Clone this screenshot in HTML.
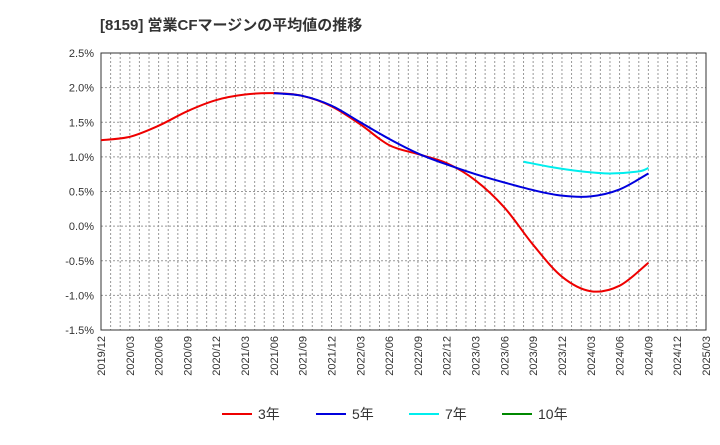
<!DOCTYPE html>
<html><head><meta charset="utf-8"><style>
body{margin:0;background:#fff;width:720px;height:440px;overflow:hidden}
text{font-family:"Liberation Sans","Noto Sans CJK JP",sans-serif}
</style></head><body>
<svg width="720" height="440">
<text x="100" y="30" font-size="15" font-weight="bold" fill="#333">[8159]  営業CFマージンの平均値の推移</text>
<g id="grid"></g><g id="axes"></g><g id="series"></g>
<g id="legend"></g>
</svg>
<script>
const yTicks=[2.5,2.0,1.5,1.0,0.5,0.0,-0.5,-1.0,-1.5];
const xLabels=["2019/12","2020/03","2020/06","2020/09","2020/12","2021/03","2021/06","2021/09","2021/12","2022/03","2022/06","2022/09","2022/12","2023/03","2023/06","2023/09","2023/12","2024/03","2024/06","2024/09","2024/12","2025/03"];
// month index from 2019/12
const s3m=[0,3,6,9,12,15,18,21,24,27,30,33,36,39,42,45,48,51,54,57];
const s3v=[1.24,1.29,1.45,1.66,1.82,1.90,1.92,1.88,1.73,1.47,1.17,1.04,0.91,0.66,0.27,-0.27,-0.73,-0.94,-0.86,-0.53];
const s5m=[18,21,24,27,30,33,36,39,42,45,48,51,54,57];
const s5v=[1.92,1.88,1.74,1.50,1.26,1.05,0.89,0.75,0.63,0.52,0.44,0.43,0.53,0.76];
const s7m=[44,47,50,53,56,57];
const s7v=[0.93,0.85,0.79,0.76,0.79,0.84];
const L=101,R=706,T=53,B=330,ymin=-1.5,ymax=2.5,mmax=63;
const X=m=>L+(R-L)*m/mmax, Y=v=>B-(B-T)*(v-ymin)/(ymax-ymin);
const NS="http://www.w3.org/2000/svg";
function mk(tag,attrs,parent){const e=document.createElementNS(NS,tag);for(const k in attrs)e.setAttribute(k,attrs[k]);document.getElementById(parent).appendChild(e);return e;}
for(let m=1;m<mmax;m++){const e=mk('line',{x1:X(m),x2:X(m),y1:T,y2:B,stroke:'#999','stroke-dasharray':'2,2','stroke-width':1},'grid');

}
yTicks.forEach(v=>{const e=mk('line',{x1:L,x2:R,y1:Y(v),y2:Y(v),stroke:'#999','stroke-dasharray':'2,2'},'grid');


const t=mk('text',{x:L-7,y:Y(v)+4,'font-size':11,'text-anchor':'end',fill:'#333'},'axes');t.textContent=v.toFixed(1)+'%';

});
const fr=mk('rect',{x:L,y:T,width:R-L,height:B-T,fill:'none',stroke:'#333'},'axes');


xLabels.forEach((s,i)=>{const x=X(i*3),y=B+6;const t=mk('text',{x:x+4,y:y,'font-size':11,'text-anchor':'end',fill:'#333',transform:`rotate(-90 ${x+4} ${y})`},'axes');t.textContent=s;

});
function line(ms,vs,c,name){
const P=ms.map((m,i)=>[X(m),Y(vs[i])]);
let d='M'+P[0][0]+','+P[0][1];
for(let i=0;i<P.length-1;i++){const p0=P[i-1]||P[i],p1=P[i],p2=P[i+1],p3=P[i+2]||P[i+1];
const c1=[p1[0]+(p2[0]-p0[0])/6,p1[1]+(p2[1]-p0[1])/6],c2=[p2[0]-(p3[0]-p1[0])/6,p2[1]-(p3[1]-p1[1])/6];
d+=` C${c1[0]},${c1[1]} ${c2[0]},${c2[1]} ${p2[0]},${p2[1]}`;}
const p=mk('path',{d:d,fill:'none',stroke:c,'stroke-width':2,'stroke-linejoin':'round'},'series');

}
line(s3m,s3v,'#e00','series-3yr');line(s7m,s7v,'#0ee','series-7yr');line(s5m,s5v,'#00d','series-5yr');
const leg=[['3年','#e00',222],['5年','#00d',316],['7年','#0ee',409],['10年','#080',502]];
leg.forEach(([n,c,x])=>{const l=mk('line',{x1:x,x2:x+30,y1:414,y2:414,stroke:c,'stroke-width':2},'legend');


const t=mk('text',{x:x+36,y:419,'font-size':14,fill:'#333'},'legend');t.textContent=n;

});
</script>
</body></html>
